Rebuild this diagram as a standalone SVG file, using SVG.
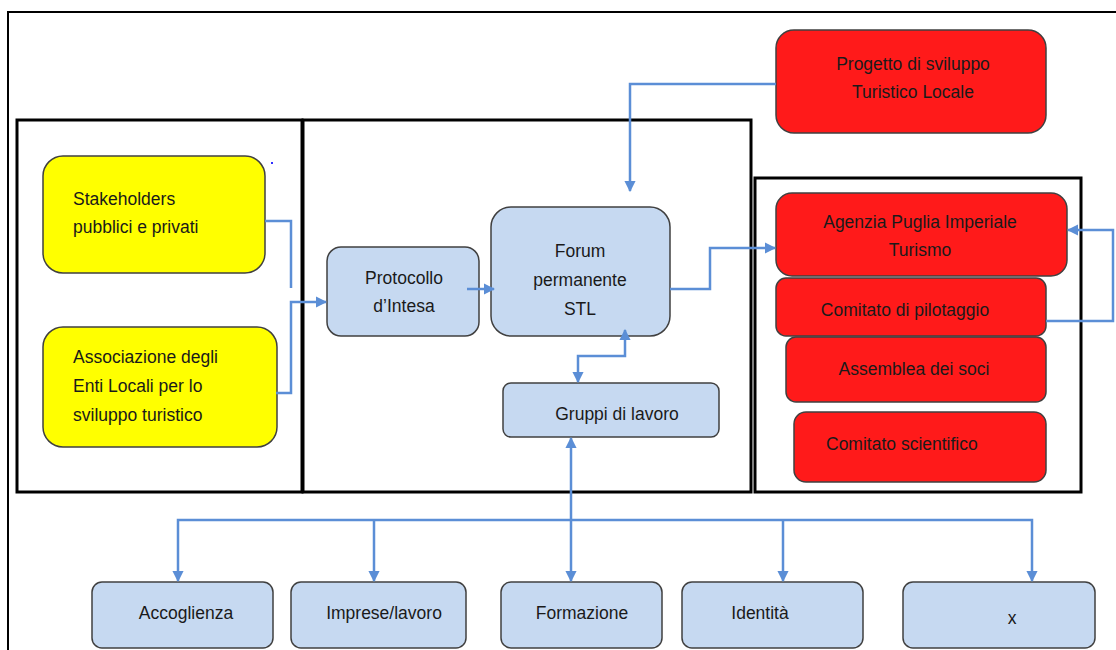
<svg xmlns="http://www.w3.org/2000/svg" width="1116" height="650" viewBox="0 0 1116 650">
<defs>
<marker id="arr" viewBox="0 0 10 10" refX="9" refY="5" markerWidth="4.6" markerHeight="4.6" orient="auto-start-reverse" markerUnits="strokeWidth">
<path d="M0,0 L10,5 L0,10 z" fill="#5B8ED6"/>
</marker>
<style>
.frame{fill:none;stroke:#000;stroke-width:2}
.panel{fill:none;stroke:#000;stroke-width:3}
.blue{fill:#C6D9F1;stroke:#404040;stroke-width:1.5}
.yellow{fill:#FFFF00;stroke:#404040;stroke-width:1.5}
.red{fill:#FF1A1A;stroke:#404040;stroke-width:1.5}
.conn{fill:none;stroke:#5B8ED6;stroke-width:2.5}
text{font-family:"Liberation Sans",Arial,sans-serif;font-size:17.5px;fill:#1a1a1a}
.c{text-anchor:middle}
</style>
</defs>
<rect width="1116" height="650" fill="#fff"/>
<g id="frame">
<path class="frame" d="M8,650 V12 H1116"/>
<rect class="panel" x="17" y="120" width="285" height="372"/>
<rect class="panel" x="303" y="120" width="448" height="372"/>
<rect class="panel" x="755" y="178" width="326" height="314"/>
<rect x="271" y="162" width="2" height="2" fill="#3030ff"/>
</g>
<g id="stakeholders">
<rect class="yellow" x="43" y="156" width="222" height="117" rx="20"/>
<text x="73" y="205">Stakeholders</text>
<text x="73" y="233">pubblici  e  privati</text>
</g>
<g id="associazione">
<rect class="yellow" x="43" y="327" width="234" height="120" rx="20"/>
<text x="73" y="363">Associazione  degli</text>
<text x="73" y="392">Enti Locali  per lo</text>
<text x="73" y="421">sviluppo  turistico</text>
</g>
<g id="protocollo">
<rect class="blue" x="327" y="247" width="152" height="89" rx="14"/>
<text class="c" x="404" y="284">Protocollo</text>
<text class="c" x="404" y="312">d’Intesa</text>
</g>
<g id="forum">
<rect class="blue" x="491" y="207" width="179" height="129" rx="20"/>
<text class="c" x="580" y="257">Forum</text>
<text class="c" x="580" y="286">permanente</text>
<text class="c" x="580" y="315">STL</text>
</g>
<g id="gruppi">
<rect class="blue" x="503" y="383" width="216" height="54" rx="8"/>
<text class="c" x="617" y="420">Gruppi di lavoro</text>
</g>
<g id="progetto">
<rect class="red" x="776" y="30" width="270" height="103" rx="18"/>
<text class="c" x="913" y="70">Progetto di  sviluppo</text>
<text class="c" x="913" y="98">Turistico Locale</text>
</g>
<g id="agenzia">
<rect class="red" x="776" y="193" width="291" height="83" rx="16"/>
<text class="c" x="920" y="228">Agenzia Puglia  Imperiale</text>
<text class="c" x="920" y="256">Turismo</text>
</g>
<g id="pilotaggio">
<rect class="red" x="776" y="278" width="270" height="58" rx="10"/>
<text class="c" x="905" y="316">Comitato di  pilotaggio</text>
</g>
<g id="assemblea">
<rect class="red" x="786" y="337" width="260" height="65" rx="10"/>
<text class="c" x="914" y="375">Assemblea dei  soci</text>
</g>
<g id="scientifico">
<rect class="red" x="794" y="412" width="252" height="70" rx="12"/>
<text x="826" y="450">Comitato scientifico</text>
</g>
<g id="accoglienza">
<rect class="blue" x="92" y="582" width="181" height="66" rx="10"/>
<text class="c" x="186" y="619">Accoglienza</text>
</g>
<g id="imprese">
<rect class="blue" x="291" y="582" width="175" height="66" rx="10"/>
<text class="c" x="384" y="619">Imprese/lavoro</text>
</g>
<g id="formazione">
<rect class="blue" x="501" y="582" width="161" height="66" rx="10"/>
<text class="c" x="582" y="619">Formazione</text>
</g>
<g id="identita">
<rect class="blue" x="682" y="582" width="181" height="66" rx="10"/>
<text class="c" x="760" y="619">Identità</text>
</g>
<g id="x">
<rect class="blue" x="903" y="582" width="192" height="66" rx="10"/>
<text class="c" x="1012" y="624">x</text>
</g>
<g id="connectors">
<path class="conn" d="M265,221 H291 V288"/>
<path class="conn" d="M276,393 H291 V302 H326" marker-end="url(#arr)"/>
<path class="conn" d="M467,289 H494" marker-end="url(#arr)"/>
<path class="conn" d="M670,289 H710 V248 H775" marker-end="url(#arr)"/>
<path class="conn" d="M776,84 H630 V191" marker-end="url(#arr)"/>
<path class="conn" d="M1046,321 H1113 V230 H1068" marker-end="url(#arr)"/>
<path class="conn" d="M625,330 V356 H578 V382" marker-start="url(#arr)" marker-end="url(#arr)"/>
<path class="conn" d="M571,438 V581" marker-start="url(#arr)" marker-end="url(#arr)"/>
<path class="conn" d="M178,581 V520 H1032 V581" marker-start="url(#arr)" marker-end="url(#arr)"/>
<path class="conn" d="M374,520 V581" marker-end="url(#arr)"/>
<path class="conn" d="M783,520 V581" marker-end="url(#arr)"/>
</g>
</svg>
